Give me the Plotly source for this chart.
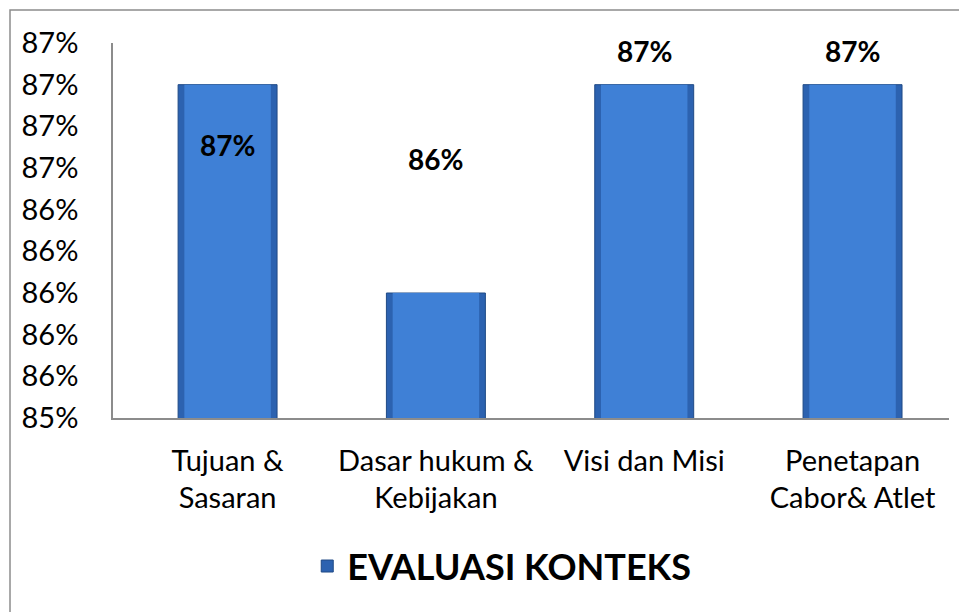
import plotly.graph_objects as go

# Chart data
categories = ['Tujuan &<br>Sasaran', 'Dasar hukum &<br>Kebijakan', 'Visi dan Misi', 'Penetapan<br>Cabor& Atlet']
values = [0.870, 0.860, 0.870, 0.870]
labels = ['87%', '86%', '87%', '87%']
label_shift = [-60, 134, 34, 34]  # manual label placement as in the source chart
series_name = 'EVALUASI KONTEKS'

fig = go.Figure()

# base bar (dark edge) + lighter face to fake the bevelled Excel look
fig.add_trace(go.Bar(
    x=categories, y=values, name=series_name, width=0.475,
    marker=dict(color='#2c62b0', line=dict(color='#1f4a86', width=1)),
    showlegend=True
))
fig.add_trace(go.Bar(
    x=categories, y=values, width=0.415,
    marker=dict(color='#3f80d6', line=dict(width=0)),
    showlegend=False, hoverinfo='skip'
))

# data labels
for cat, val, txt, dy in zip(categories, values, labels, label_shift):
    fig.add_annotation(x=cat, y=val, text=txt, showarrow=False, yshift=dy,
                       font=dict(family='Lato', size=28, color='black', weight='bold'))

# outer chart frame
fig.add_shape(type='rect', xref='paper', yref='paper',
              x0=-0.1232, x1=1.2, y0=-0.7, y1=1.088,
              line=dict(color='#8c8c8c', width=1.5), fillcolor='rgba(0,0,0,0)')

# page body has an 8px margin, so the figure is a bit smaller than the window
fig.update_layout(
    width=959, height=604,
    barmode='overlay',
    paper_bgcolor='white', plot_bgcolor='white',
    margin=dict(l=105, r=18, t=35, b=194),
    font=dict(family='Lato', size=29, color='black'),
    showlegend=True,
    legend=dict(orientation='h', x=0.465, xanchor='center', y=-0.395, yanchor='middle',
                font=dict(family='Lato', size=36, color='black', weight='bold'),
                itemwidth=30),
)

fig.update_xaxes(range=[-0.55, 3.463], showline=True, linecolor='#8c8c8c', linewidth=1.5,
                 showgrid=False, ticks='', ticklabelstandoff=16)
fig.update_yaxes(range=[0.854, 0.872], tick0=0.854, dtick=0.002, tickformat='.0%',
                 showline=True, linecolor='#8c8c8c', linewidth=1.5, showgrid=False,
                 zeroline=False, ticks='', ticklabelstandoff=27)

fig.write_html("out.html")
